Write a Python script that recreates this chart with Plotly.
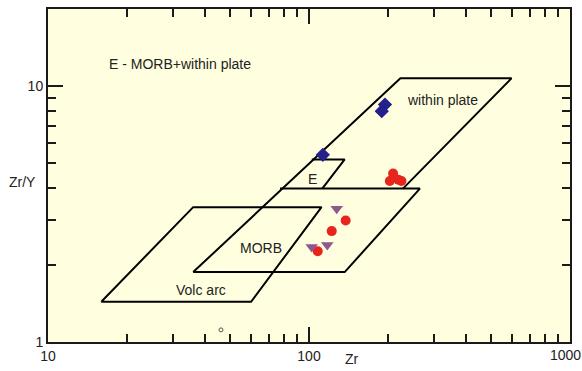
import math
import plotly.graph_objects as go

# ---- field boundaries (Zr, Zr/Y) ----
wp_zr = [36, 224, 597, 229]
wp_zry = [1.875, 10.7, 10.7, 3.97]
morb_zr = [77.4, 266, 137, 36]
morb_zry = [3.97, 3.97, 1.875, 1.875]
e_zr = [102.5, 137, 112.4]
e_zry = [5.16, 5.16, 3.97]
va_zr = [16, 36, 111.7, 60, 16]
va_zry = [1.436, 3.36, 3.36, 1.436, 1.436]

# ---- samples ----
dia_zr = [195.5, 190, 113]
dia_zry = [8.45, 7.96, 5.38]
red_zr = [210, 204, 220, 226, 138.2, 122.2, 108]
red_zry = [4.55, 4.25, 4.3, 4.25, 2.98, 2.71, 2.26]
tri_zr = [127.7, 102.4, 117.5]
tri_zry = [3.31, 2.35, 2.39]
open_zr = [46]
open_zry = [1.115]

# ---- labels ----
lab_text = ["E - MORB+within plate", "within plate", "E", "MORB", "Volc arc"]
lab_zr = [16.8, 324, 103.5, 65.5, 38.7]
lab_zry = [12.2, 8.84, 4.31, 2.32, 1.6]
lab_anchor = ["left", "center", "center", "center", "center"]

# ---- ticks ----
xtick_vals = [10, 100, 1000]
xtick_text = ["10", "100", "1000"]
ytick_vals = [1, 10]
ytick_text = ["1", "10"]

FONT = "Liberation Sans, Arial"
FS = 14
line_col = "#1a1a1a"
txt_col = "#222222"

fig = go.Figure()
for xs, ys in [(wp_zr, wp_zry), (morb_zr, morb_zry), (e_zr, e_zry), (va_zr, va_zry)]:
    fig.add_trace(go.Scatter(x=xs, y=ys, mode="lines",
                             line=dict(color="black", width=2), hoverinfo="skip"))

fig.add_trace(go.Scatter(x=dia_zr, y=dia_zry, mode="markers",
                         marker=dict(symbol="diamond", size=11, color="#25218a")))
fig.add_trace(go.Scatter(x=red_zr, y=red_zry, mode="markers",
                         marker=dict(symbol="circle", size=10, color="#e8251c")))
fig.add_trace(go.Scatter(x=tri_zr, y=tri_zry, mode="markers",
                         marker=dict(symbol="triangle-down", size=11, color="#8e5a8e")))
fig.add_trace(go.Scatter(x=open_zr, y=open_zry, mode="markers",
                         marker=dict(symbol="circle-open", size=4, color="#555555",
                                     line=dict(width=1))))

for t, x, y, a in zip(lab_text, lab_zr, lab_zry, lab_anchor):
    fig.add_annotation(x=math.log10(x), y=math.log10(y), text=t, showarrow=False,
                       xanchor=a, yanchor="middle",
                       font=dict(family=FONT, size=FS, color=txt_col))

# the last x tick label sits on the plot edge; the axis would hide it, so place it here
fig.add_annotation(x=math.log10(xtick_vals[-1]), yref="paper", y=-(358 - 345) / 338,
                   text=xtick_text[-1], showarrow=False, xanchor="center",
                   yanchor="middle", xshift=-5,
                   font=dict(family=FONT, size=FS, color=txt_col))

fig.add_annotation(xref="paper", yref="paper", x=(22 - 48) / 522, y=(345 - 183) / 338,
                   text="Zr/Y", showarrow=False, xanchor="center", yanchor="middle",
                   font=dict(family=FONT, size=FS, color=txt_col))
fig.add_annotation(xref="paper", yref="paper", x=(352 - 48) / 522, y=-(362 - 345) / 338,
                   text="Zr", showarrow=False, xanchor="center", yanchor="middle",
                   font=dict(family=FONT, size=FS, color=txt_col))

axis_common = dict(
    type="log", showgrid=False, zeroline=False,
    showline=True, linewidth=2, linecolor=line_col, mirror="allticks",
    ticks="inside", ticklen=15, tickwidth=2, tickcolor=line_col,
    tickfont=dict(family=FONT, size=FS, color=txt_col),
    minor=dict(ticks="inside", ticklen=8, tickwidth=2, tickcolor=line_col,
               dtick="D1", showgrid=False),
)
fig.update_xaxes(range=[1, 3], tickvals=xtick_vals[:-1], ticktext=xtick_text[:-1],
                 **axis_common)
fig.update_yaxes(range=[0, math.log10(19.95)], tickvals=ytick_vals,
                 ticktext=ytick_text, **axis_common)

fig.update_layout(width=582, height=371, margin=dict(l=48, r=12, t=7, b=26),
                  paper_bgcolor="white", plot_bgcolor="#ffffe0", showlegend=False,
                  font=dict(family=FONT, size=FS, color=txt_col))
fig.write_html("out.html")
